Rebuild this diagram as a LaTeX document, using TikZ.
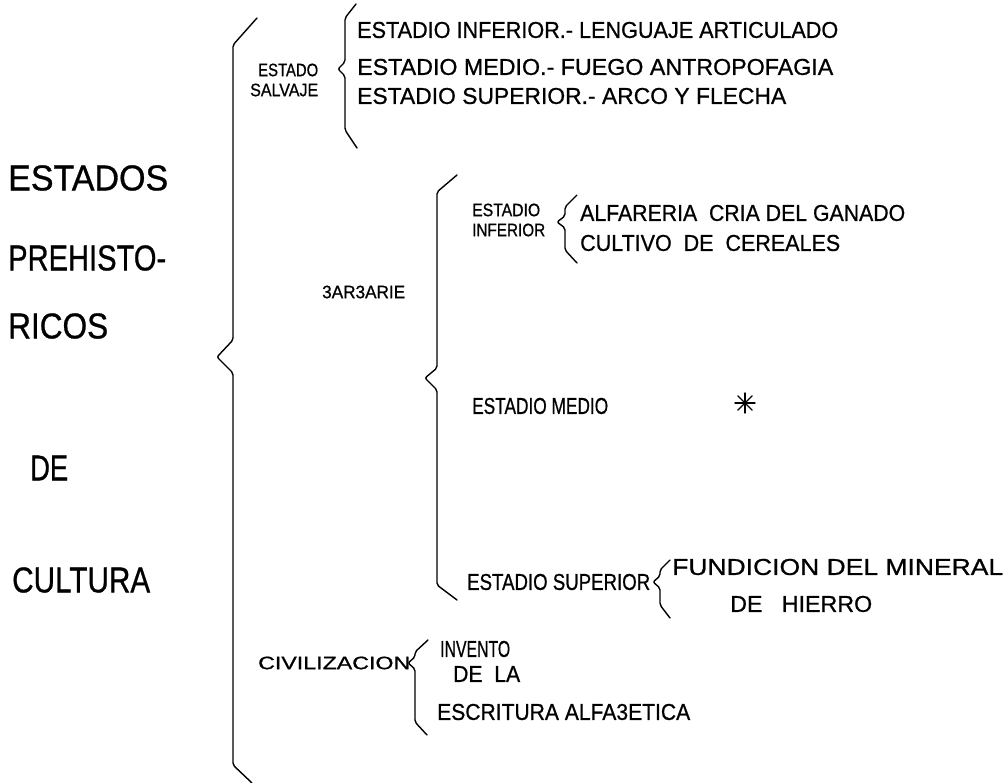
\documentclass[tikz,border=0pt]{standalone}
\usepackage{fontspec}
\setmainfont{Liberation Sans}[FakeBold=0.8]
\usepackage{graphicx}

% stretch a label to a given width, height kept
\newcommand\fitto[2]{\resizebox{#1pt}{\height}{#2}}

\tikzset{
  big/.style={font=\fontsize{36}{36}\selectfont, inner sep=0pt, anchor=west},
  mid/.style={font=\fontsize{18}{18}\selectfont, inner sep=0pt, anchor=west},
  sml/.style={font=\fontsize{23}{23}\selectfont, inner sep=0pt, anchor=west},
  brace/.style={line width=1.4pt, line cap=round, line join=round, rounded corners=2pt},
}

\begin{document}
\begin{tikzpicture}[x=1pt,y=-1pt]
\useasboundingbox (0,0) rectangle (1005,783);

% title column
\node[big] (estados) at (8,178) {\fitto{160}{ESTADOS}};
\node[big] (prehisto) at (8,258) {\fitto{158}{PREHISTO-}};
\node[big] (ricos) at (8,326) {\fitto{100}{RICOS}};
\node[big] (de) at (30,468) {\fitto{38}{DE}};
\node[big] (cultura) at (12,580) {\fitto{138}{CULTURA}};

% main brace
\draw[brace] (257,18) -- (233,45) -- (233,340) -- (217,357) -- (233,373) -- (233,765) -- (252,783);

% estado salvaje
\node[mid] (estado) at (258,70) {\fitto{60}{ESTADO}};
\node[mid] (salvaje) at (250,90) {\fitto{68}{SALVAJE}};
\draw[brace] (356,4) -- (345,18) -- (345,62) -- (338,69) -- (345,76) -- (345,130) -- (357,148);
\node[sml] (sinf) at (357,30) {\fitto{481}{ESTADIO INFERIOR.- LENGUAJE ARTICULADO}};
\node[sml] (smed) at (357,67) {\fitto{476}{ESTADIO MEDIO.- FUEGO ANTROPOFAGIA}};
\node[sml] (ssup) at (357,96) {\fitto{429}{ESTADIO SUPERIOR.- ARCO Y FLECHA}};

% barbarie
\node[mid] (barbarie) at (322,292) {\fitto{83}{3AR3ARIE}};
\draw[brace] (457,175) -- (437,192) -- (437,368) -- (425,378) -- (437,390) -- (437,585) -- (457,600);

\node[mid] (binf1) at (472,210) {\fitto{68}{ESTADIO}};
\node[mid] (binf2) at (472,230) {\fitto{73}{INFERIOR}};
\draw[brace] (577,195) -- (565,207) -- (565,216) -- (557,222) -- (565,228) -- (565,250) -- (577,263);
\node[sml] (alfa) at (580,213) {\fitto{325}{ALFARERIA\ \ CRIA DEL GANADO}};
\node[sml] (cult) at (580,243) {\fitto{260}{CULTIVO\ \ DE\ \ CEREALES}};

\node[sml] (bmed) at (472,406) {\fitto{136}{ESTADIO\ MEDIO}};
\node (ast) at (745,403) {};
\foreach \a in {0,45,90,135}
  \draw[brace] (ast.center) +(\a:10) -- +(\a+180:10);

\node[sml] (bsup) at (467,582) {\fitto{183}{ESTADIO SUPERIOR}};
\draw[brace] (670,560) -- (660,570) -- (660,576) -- (653,582) -- (660,588) -- (660,605) -- (670,618);
\node[sml] (fund) at (672,567) {\fitto{331}{FUNDICION DEL MINERAL}};
\node[sml] (hierro) at (730,604) {\fitto{142}{DE\ \ \ HIERRO}};

% civilizacion
\node[mid] (civ) at (258,663) {\fitto{152}{CIVILIZACION}};
\draw[brace] (428,640) -- (415,652) -- (415,657) -- (408,663) -- (415,669) -- (415,722) -- (427,735);
\node[sml] (inv) at (440,649) {\fitto{70}{INVENTO}};
\node[sml] (dela) at (453,674) {\fitto{67}{DE\ \ LA}};
\node[sml] (escr) at (437,712) {\fitto{253}{ESCRITURA\ ALFA3ETICA}};
\end{tikzpicture}
\end{document}
